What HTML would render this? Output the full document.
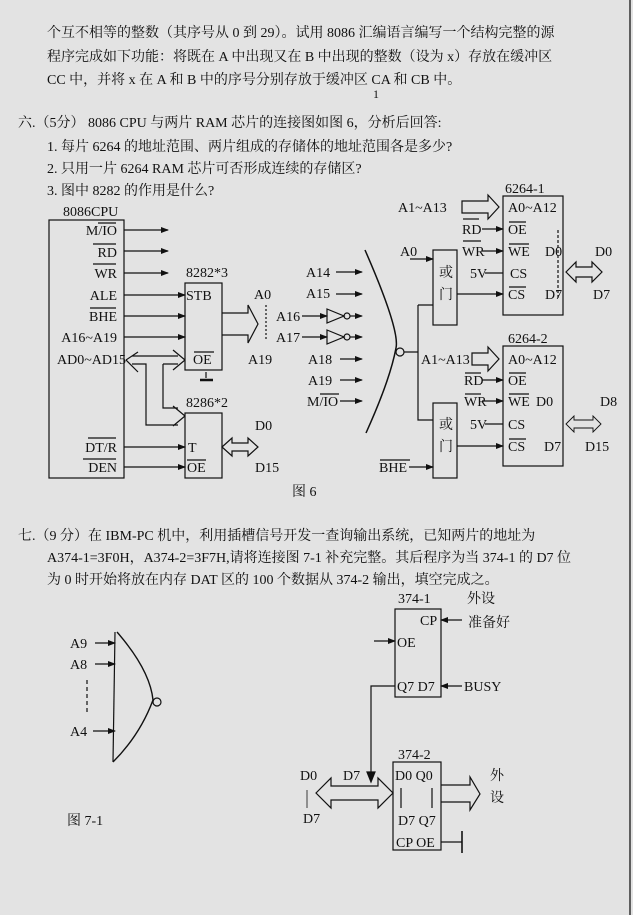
<!DOCTYPE html>
<html><head><meta charset="utf-8"><style>
html,body{margin:0;padding:0;background:#e3e3e3}
svg{display:block}
text{font-family:"Liberation Serif","Noto Serif CJK SC","Noto Sans CJK SC",serif;fill:#111;font-size:14px}
.s{font-size:14px}
</style></head><body>
<svg width="633" height="915" viewBox="0 0 633 915" xmlns="http://www.w3.org/2000/svg">
<defs>
<marker id="a" markerWidth="8" markerHeight="6" refX="7" refY="3" orient="auto" markerUnits="userSpaceOnUse"><path d="M0,0 L8,3 L0,6 z" fill="#111"/></marker>
</defs>
<rect width="633" height="915" fill="#e3e3e3"/>
<line x1="630" y1="0" x2="630" y2="915" stroke="#333" stroke-width="1.5"/>
<!-- top text -->
<text x="47" y="37">个互不相等的整数（其序号从 0 到 29）。试用 8086 汇编语言编写一个结构完整的源</text>
<text x="47" y="61">程序完成如下功能：将既在 A 中出现又在 B 中出现的整数（设为 x）存放在缓冲区</text>
<text x="47" y="84">CC 中，并将 x 在 A 和 B 中的序号分别存放于缓冲区 CA 和 CB 中。</text>
<text x="373" y="98" style="font-size:12px">1</text>
<text x="18" y="127">六.（5分） 8086 CPU 与两片 RAM 芯片的连接图如图 6，分析后回答:</text>
<text x="47" y="151">1. 每片 6264 的地址范围、两片组成的存储体的地址范围各是多少?</text>
<text x="47" y="173">2. 只用一片 6264 RAM 芯片可否形成连续的存储区?</text>
<text x="47" y="195">3. 图中 8282 的作用是什么?</text>

<!-- Figure 6 left -->
<g>
<text x="63" y="216" class="s">8086CPU</text>
<text x="117" y="235" class="s" text-anchor="end">M/IO</text>
<text x="117" y="257" class="s" text-anchor="end">RD</text>
<text x="117" y="278" class="s" text-anchor="end">WR</text>
<text x="117" y="300" class="s" text-anchor="end">ALE</text>
<text x="117" y="321" class="s" text-anchor="end">BHE</text>
<text x="117" y="342" class="s" text-anchor="end">A16~A19</text>
<text x="126" y="364" class="s" text-anchor="end">AD0~AD15</text>
<text x="117" y="452" class="s" text-anchor="end">DT/R</text>
<text x="117" y="472" class="s" text-anchor="end">DEN</text>
<text x="186" y="277" class="s">8282*3</text>
<text x="186" y="300" class="s">STB</text>
<text x="193" y="364" class="s">OE</text>
<text x="254" y="299" class="s">A0</text>
<text x="248" y="364" class="s">A19</text>
<text x="186" y="407" class="s">8286*2</text>
<text x="188" y="452" class="s">T</text>
<text x="187" y="472" class="s">OE</text>
<text x="255" y="430" class="s">D0</text>
<text x="255" y="472" class="s">D15</text>
<text x="292" y="496" class="s">图 6</text>
</g>
<g stroke="#111" stroke-width="1.2" fill="none">
<line x1="98" y1="223" x2="116" y2="223"/>
<line x1="93" y1="244" x2="116" y2="244"/>
<line x1="93" y1="264" x2="116" y2="264"/>
<line x1="90" y1="308" x2="116" y2="308"/>
<line x1="88" y1="438" x2="116" y2="438"/>
<line x1="83" y1="459" x2="116" y2="459"/>
<line x1="194" y1="352" x2="214" y2="352"/>
<line x1="187" y1="460" x2="206" y2="460"/>
<rect x="49" y="220" width="75" height="258"/>
<rect x="185" y="283" width="37" height="87"/>
<rect x="185" y="413" width="37" height="65"/>
<line x1="124" y1="230" x2="168" y2="230" marker-end="url(#a)"/>
<line x1="124" y1="251" x2="168" y2="251" marker-end="url(#a)"/>
<line x1="124" y1="273" x2="168" y2="273" marker-end="url(#a)"/>
<line x1="124" y1="295" x2="185" y2="295" marker-end="url(#a)"/>
<line x1="124" y1="316" x2="185" y2="316" marker-end="url(#a)"/>
<line x1="124" y1="337" x2="185" y2="337" marker-end="url(#a)"/>
<line x1="124" y1="447" x2="185" y2="447" marker-end="url(#a)"/>
<line x1="124" y1="467" x2="185" y2="467" marker-end="url(#a)"/>
<line x1="200" y1="380" x2="213" y2="380" stroke-width="2.5"/>
<line x1="206" y1="372" x2="206" y2="378"/>
<path d="M126,360 L138,352 M126,360 L138,372 M132,356 L178,356 M132,364 L146,364 L146,425 L178,425 M163,364 L178,364 M163,364 L163,408 L178,408 M185,360 L173,350 M185,360 L173,370 M185,416 L173,406 M185,416 L173,426"/>
<path d="M222,313 L248,313 L248,305 L258,324 L248,343 L248,335 L222,335"/>
<line x1="266" y1="305" x2="266" y2="340" stroke-dasharray="2,2"/>
<path d="M222,447 L232,438 L232,443 L248,443 L248,438 L258,447 L248,456 L248,451 L232,451 L232,456 z"/>
</g>

<!-- Figure 6 middle/right -->
<g>
<text x="306" y="277" class="s">A14</text>
<text x="306" y="298" class="s">A15</text>
<text x="276" y="321" class="s">A16</text>
<text x="276" y="342" class="s">A17</text>
<text x="308" y="364" class="s">A18</text>
<text x="308" y="385" class="s">A19</text>
<text x="307" y="406" class="s">M/IO</text>
<text x="398" y="212" class="s">A1~A13</text>
<text x="400" y="256" class="s">A0</text>
<text x="462" y="234" class="s">RD</text>
<text x="462" y="256" class="s">WR</text>
<text x="470" y="278" class="s">5V</text>
<text x="439" y="277" class="s">或</text>
<text x="439" y="299" class="s">门</text>
<text x="505" y="193" class="s">6264-1</text>
<text x="508" y="212" class="s">A0~A12</text>
<text x="508" y="234" class="s">OE</text>
<text x="508" y="256" class="s">WE</text>
<text x="510" y="278" class="s">CS</text>
<text x="508" y="299" class="s">CS</text>
<text x="545" y="256" class="s">D0</text>
<text x="545" y="299" class="s">D7</text>
<text x="595" y="256" class="s">D0</text>
<text x="593" y="299" class="s">D7</text>
<text x="508" y="343" class="s">6264-2</text>
<text x="421" y="364" class="s">A1~A13</text>
<text x="508" y="364" class="s">A0~A12</text>
<text x="464" y="385" class="s">RD</text>
<text x="508" y="385" class="s">OE</text>
<text x="464" y="406" class="s">WR</text>
<text x="508" y="406" class="s">WE</text>
<text x="536" y="406" class="s">D0</text>
<text x="600" y="406" class="s">D8</text>
<text x="470" y="429" class="s">5V</text>
<text x="508" y="429" class="s">CS</text>
<text x="508" y="451" class="s">CS</text>
<text x="544" y="451" class="s">D7</text>
<text x="585" y="451" class="s">D15</text>
<text x="439" y="429" class="s">或</text>
<text x="439" y="451" class="s">门</text>
<text x="379" y="472" class="s">BHE</text>
</g>
<g stroke="#111" stroke-width="1.2" fill="none">
<line x1="320" y1="394" x2="339" y2="394"/>
<line x1="463" y1="219" x2="479" y2="219"/>
<line x1="463" y1="241" x2="481" y2="241"/>
<line x1="509" y1="222" x2="526" y2="222"/>
<line x1="509" y1="244" x2="529" y2="244"/>
<line x1="509" y1="287" x2="526" y2="287"/>
<line x1="465" y1="373" x2="481" y2="373"/>
<line x1="465" y1="394" x2="481" y2="394"/>
<line x1="509" y1="373" x2="526" y2="373"/>
<line x1="509" y1="394" x2="529" y2="394"/>
<line x1="509" y1="439" x2="526" y2="439"/>
<line x1="380" y1="460" x2="410" y2="460"/>
<line x1="336" y1="272" x2="362" y2="272" marker-end="url(#a)"/>
<line x1="336" y1="294" x2="362" y2="294" marker-end="url(#a)"/>
<line x1="302" y1="316" x2="327" y2="316" marker-end="url(#a)"/>
<line x1="302" y1="337" x2="327" y2="337" marker-end="url(#a)"/>
<path d="M327,309 L344,316 L327,323 z M327,330 L344,337 L327,344 z"/>
<circle cx="347" cy="316" r="3"/><circle cx="347" cy="337" r="3"/>
<line x1="350" y1="316" x2="362" y2="316" marker-end="url(#a)"/>
<line x1="350" y1="337" x2="362" y2="337" marker-end="url(#a)"/>
<line x1="340" y1="359" x2="362" y2="359" marker-end="url(#a)"/>
<line x1="340" y1="380" x2="362" y2="380" marker-end="url(#a)"/>
<line x1="340" y1="401" x2="362" y2="401" marker-end="url(#a)"/>
<path d="M365,250 Q400,330 396,348 Q390,380 366,433" stroke-width="1.5"/>
<circle cx="400" cy="352" r="4"/>
<path d="M404,352 L418,352 M418,305 L418,420 L433,420 M418,305 L433,305"/>
<rect x="433" y="250" width="24" height="75"/>
<rect x="433" y="403" width="24" height="75"/>
<line x1="410" y1="259" x2="433" y2="259" marker-end="url(#a)"/>
<line x1="409" y1="467" x2="433" y2="467" marker-end="url(#a)"/>
<line x1="457" y1="294" x2="503" y2="294" marker-end="url(#a)"/>
<line x1="457" y1="446" x2="503" y2="446" marker-end="url(#a)"/>
<rect x="503" y="196" width="60" height="119"/>
<rect x="503" y="346" width="60" height="120"/>
<line x1="558" y1="230" x2="558" y2="300" stroke-dasharray="3,2"/>
<line x1="482" y1="229" x2="503" y2="229" marker-end="url(#a)"/>
<line x1="482" y1="251" x2="503" y2="251" marker-end="url(#a)"/>
<line x1="485" y1="273" x2="503" y2="273"/>
<line x1="482" y1="380" x2="503" y2="380" marker-end="url(#a)"/>
<line x1="482" y1="401" x2="503" y2="401" marker-end="url(#a)"/>
<line x1="485" y1="424" x2="503" y2="424"/>
<path d="M462,201 L488,201 L488,195 L499,207 L488,219 L488,213 L462,213 z"/>
<path d="M472,353 L488,353 L488,347 L499,359 L488,371 L488,365 L472,365 z"/>
<path d="M566,272 L576,262 L576,267 L592,267 L592,262 L602,272 L592,282 L592,277 L576,277 L576,282 z"/>
<path d="M566,424 L574,416 L574,420 L593,420 L593,416 L601,424 L593,432 L593,428 L574,428 L574,432 z" stroke-width="0.9"/>
</g>

<!-- Section 7 -->
<text x="18" y="540">七.（9 分）在 IBM-PC 机中，利用插槽信号开发一查询输出系统，已知两片的地址为</text>
<text x="47" y="562">A374-1=3F0H，A374-2=3F7H,请将连接图 7-1 补充完整。其后程序为当 374-1 的 D7 位</text>
<text x="47" y="584">为 0 时开始将放在内存 DAT 区的 100 个数据从 374-2 输出，填空完成之。</text>
<g>
<text x="70" y="648" class="s">A9</text>
<text x="70" y="669" class="s">A8</text>
<text x="70" y="736" class="s">A4</text>
<text x="67" y="825" class="s">图 7-1</text>
<text x="398" y="603" class="s">374-1</text>
<text x="467" y="603" class="s">外设</text>
<text x="420" y="625" class="s">CP</text>
<text x="468" y="627" class="s">准备好</text>
<text x="397" y="647" class="s">OE</text>
<text x="397" y="691" class="s">Q7 D7</text>
<text x="464" y="691" class="s">BUSY</text>
<text x="398" y="759" class="s">374-2</text>
<text x="395" y="780" class="s">D0 Q0</text>
<text x="398" y="825" class="s">D7 Q7</text>
<text x="396" y="847" class="s">CP OE</text>
<text x="300" y="780" class="s">D0</text>
<text x="343" y="780" class="s">D7</text>
<text x="303" y="823" class="s">D7</text>
<text x="490" y="780" class="s">外</text>
<text x="490" y="802" class="s">设</text>
</g>
<g stroke="#111" stroke-width="1.2" fill="none">
<line x1="115" y1="632" x2="113" y2="762"/>
<path d="M117,632 Q150,670 153,700 Q140,735 113,762" stroke-width="1.4"/>
<circle cx="157" cy="702" r="4"/>
<line x1="95" y1="643" x2="115" y2="643" marker-end="url(#a)"/>
<line x1="95" y1="664" x2="115" y2="664" marker-end="url(#a)"/>
<line x1="93" y1="731" x2="115" y2="731" marker-end="url(#a)"/>
<line x1="87" y1="680" x2="87" y2="715" stroke-dasharray="4,3"/>
<rect x="395" y="609" width="46" height="88"/>
<line x1="462" y1="620" x2="441" y2="620" marker-end="url(#a)"/>
<line x1="374" y1="641" x2="395" y2="641" marker-end="url(#a)"/>
<line x1="462" y1="686" x2="441" y2="686" marker-end="url(#a)"/>
<path d="M395,686 L371,686 L371,780"/>
<path d="M367,772 L371,782 L375,772 z" fill="#111"/>
<rect x="393" y="762" width="48" height="88"/>
<line x1="401" y1="788" x2="401" y2="808"/>
<line x1="432" y1="788" x2="432" y2="808"/>
<path d="M316,793 L331,778 L331,786 L378,786 L378,778 L393,793 L378,808 L378,800 L331,800 L331,808 z"/>
<line x1="307" y1="790" x2="307" y2="808" stroke-width="0.8"/>
<path d="M441,785 L470,785 L470,777 L480,794 L470,810 L470,802 L441,802"/>
<line x1="441" y1="842" x2="462" y2="842"/>
<line x1="462" y1="831" x2="462" y2="853" stroke-width="1.6"/>
</g>
</svg>
</body></html>
